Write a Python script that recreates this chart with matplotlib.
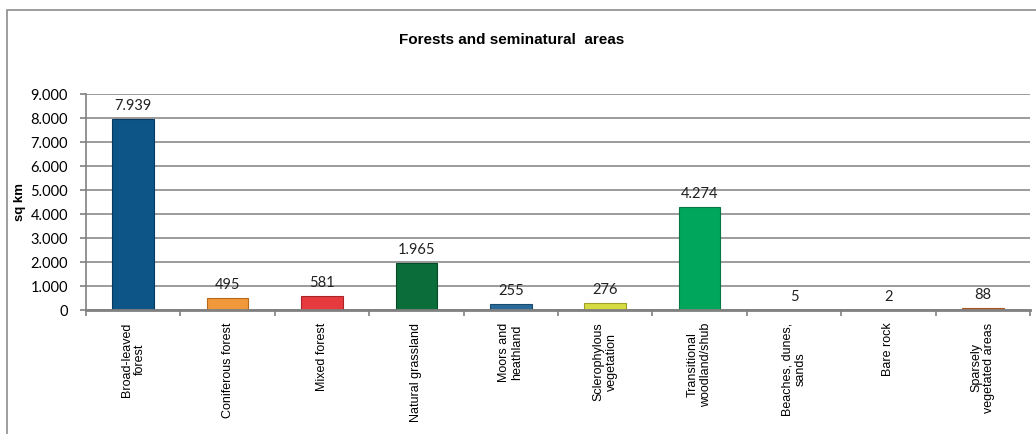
import numpy as np
import matplotlib.pyplot as plt
from matplotlib.patches import Rectangle
from matplotlib.ticker import FuncFormatter

plt.rcParams['font.family'] = ['Liberation Sans', 'DejaVu Sans']

categories = ['Broad-leaved\nforest', 'Coniferous forest', 'Mixed forest',
              'Natural grassland', 'Moors and\nheathland', 'Sclerophylous\nvegetation',
              'Transitional\nwoodland/shub', 'Beaches, dunes,\nsands', 'Bare rock',
              'Sparsely\nvegetated areas']
values = [7939, 495, 581, 1965, 255, 276, 4274, 5, 2, 88]
colors = ['#0d5587', '#f0983a', '#e63a3e', '#0b6e3a', '#2a6a98',
          '#d6dc40', '#00a65c', '#2ba8c4', '#8a86ac', '#e27a34']
edges = ['#063a60', '#b86a1c', '#a82428', '#064a26', '#1a4a70',
         '#9ea028', '#007a42', '#1a7a90', '#5e5a80', '#a8561e']

def dotted(v, pos=None):
    return '{:,.0f}'.format(v).replace(',', '.')

fig = plt.figure(figsize=(10.36, 4.34), dpi=100)
fig.patches.append(Rectangle((7/1036, -0.1), 1.2, 1 - 10/434 + 0.1,
                             transform=fig.transFigure, fill=False,
                             edgecolor='#8c8c8c', linewidth=1.2))

ax = fig.add_axes([86/1036, 1 - 310/434, 944/1036, 216/434])
x = np.arange(len(values))
ax.bar(x, values, width=0.44, color=colors, edgecolor=edges, linewidth=0.8, zorder=3)

for xi, v in zip(x, values):
    ax.text(xi, v + 250, dotted(v), ha='center', va='bottom',
            fontsize=10.5, family=['Lato', 'DejaVu Sans'], color='#222222')

ax.set_xlim(-0.5, len(values) - 0.5)
ax.set_ylim(0, 9000)
ax.set_yticks(np.arange(0, 9001, 1000))
ax.yaxis.set_major_formatter(FuncFormatter(dotted))
ax.tick_params(axis='y', labelsize=10.5, length=4, color='#808080', width=1.2, pad=9)
for lab in ax.get_yticklabels():
    lab.set_family(['Lato', 'DejaVu Sans'])
ax.grid(axis='y', color='#8a8a8a', linewidth=1.2, zorder=0)

ax.set_xticks(x)
ax.set_xticklabels(categories, rotation=90, fontsize=9, ha='center',
                   va='top', multialignment='center', linespacing=1.15)
ax.tick_params(axis='x', length=0, pad=9)
ax.set_xticks(np.arange(-0.5, len(values)), minor=True)
ax.tick_params(axis='x', which='minor', length=4, color='#808080', width=1.2)

for side in ['top', 'right']:
    ax.spines[side].set_visible(False)
ax.spines['left'].set_color('#808080')
ax.spines['left'].set_linewidth(1.2)
ax.spines['bottom'].set_color('#808080')
ax.spines['bottom'].set_linewidth(2)
ax.spines['bottom'].set_zorder(4)

ax.set_ylabel('sq km', fontsize=9.5, fontweight='bold')
ax.yaxis.set_label_coords(-60/944, 0.5)
fig.text(512/1036, 1 - 40/434, 'Forests and seminatural  areas', ha='center',
         va='center', fontsize=11, fontweight='bold')

fig.savefig('out.png', dpi=100)
